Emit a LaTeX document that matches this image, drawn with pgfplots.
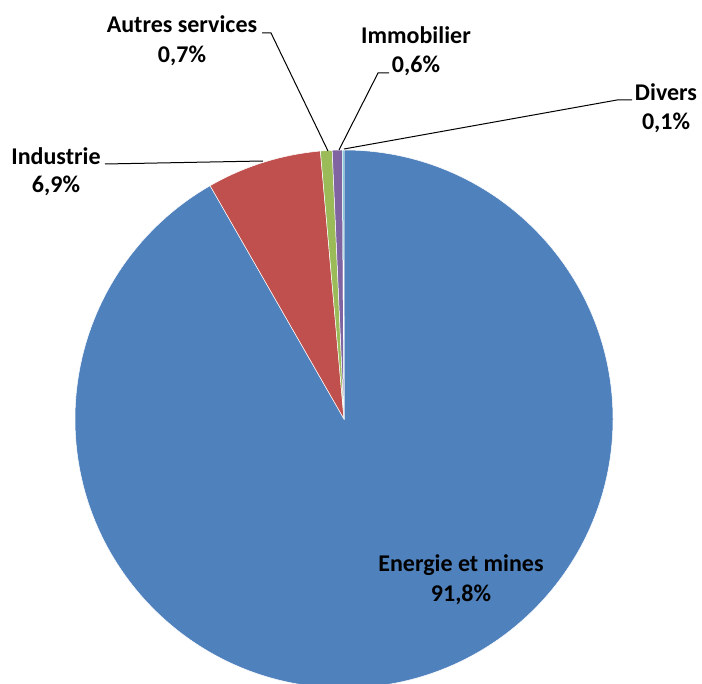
\documentclass[border=0pt]{standalone}
\usepackage{pgfplots}
\pgfplotsset{compat=1.18}
\usepackage{pgfplotstable}
\usepackage{fontspec}
\setmainfont{Carlito}

\definecolor{pieblue}{HTML}{4F81BD}
\definecolor{piered}{HTML}{C0504D}
\definecolor{piegreen}{HTML}{9BBB59}
\definecolor{piepurple}{HTML}{8064A2}
\definecolor{piecyan}{HTML}{4BACC6}

% shares in percent, clockwise from the top
\pgfplotstableread{
name       value
Energie    91.8
Industrie  6.9
Autres     0.7
Immobilier 0.6
Divers     0.1
}\piedata

\newcommand\lbl{\fontsize{24}{29}\selectfont\bfseries}

\begin{document}
\begin{tikzpicture}
    % start and end angle of each slice (shares sum to 100.1)
    \xdef\acc{90}
    \foreach \i in {0,...,4}{
        \pgfplotstablegetelem{\i}{value}\of\piedata
        \pgfmathsetmacro\endang{\acc - \pgfplotsretval*3.6/1.001}
        \expandafter\xdef\csname sa\i\endcsname{\acc}
        \expandafter\xdef\csname ea\i\endcsname{\endang}
        \xdef\acc{\endang}
    }

    \begin{axis}[
        scale only axis,
        width      = 702pt,
        height     = 684pt,
        xmin       = 0,
        xmax       = 702,
        ymin       = 0,
        ymax       = 684,
        y dir      = reverse,
        hide axis,
        clip       = false]

        \foreach \i/\c in {0/pieblue,1/piered,2/piegreen,3/piepurple,4/piecyan}{
            \edef\tmp{\noexpand\fill[\c, draw=white, line width=0.5pt]
                (axis cs:344,419) -- ++(\csname sa\i\endcsname:269pt)
                arc[start angle=\csname sa\i\endcsname,
                    end angle=\csname ea\i\endcsname, radius=269pt] -- cycle;}
            \tmp
        }

        % leader lines
        \draw[black, line width=1pt] (axis cs:262,33)  -- (axis cs:271,33)  -- (axis cs:328,151);
        \draw[black, line width=1pt] (axis cs:389,73)  -- (axis cs:378,73)  -- (axis cs:339,150);
        \draw[black, line width=1pt] (axis cs:632,100) -- (axis cs:617,100) -- (axis cs:344,149);
        \draw[black, line width=1pt] (axis cs:105,164) -- (axis cs:263,161);

        % labels
        \node[anchor=base, font=\lbl] at (axis cs:182,33)  {Autres services};
        \node[anchor=base, font=\lbl] at (axis cs:182,63)  {0,7\%};
        \node[anchor=base, font=\lbl] at (axis cs:416,44)  {Immobilier};
        \node[anchor=base, font=\lbl] at (axis cs:416,73)  {0,6\%};
        \node[anchor=base, font=\lbl] at (axis cs:666,101) {Divers};
        \node[anchor=base, font=\lbl] at (axis cs:666,130) {0,1\%};
        \node[anchor=base, font=\lbl] at (axis cs:56,165)  {Industrie};
        \node[anchor=base, font=\lbl] at (axis cs:56,193)  {6,9\%};
        \node[anchor=base, font=\lbl] at (axis cs:461,572) {Energie et mines};
        \node[anchor=base, font=\lbl] at (axis cs:461,601) {91,8\%};
    \end{axis}
    \pgfresetboundingbox
    \path (0,0) rectangle (702pt,684pt);
\end{tikzpicture}
\end{document}
